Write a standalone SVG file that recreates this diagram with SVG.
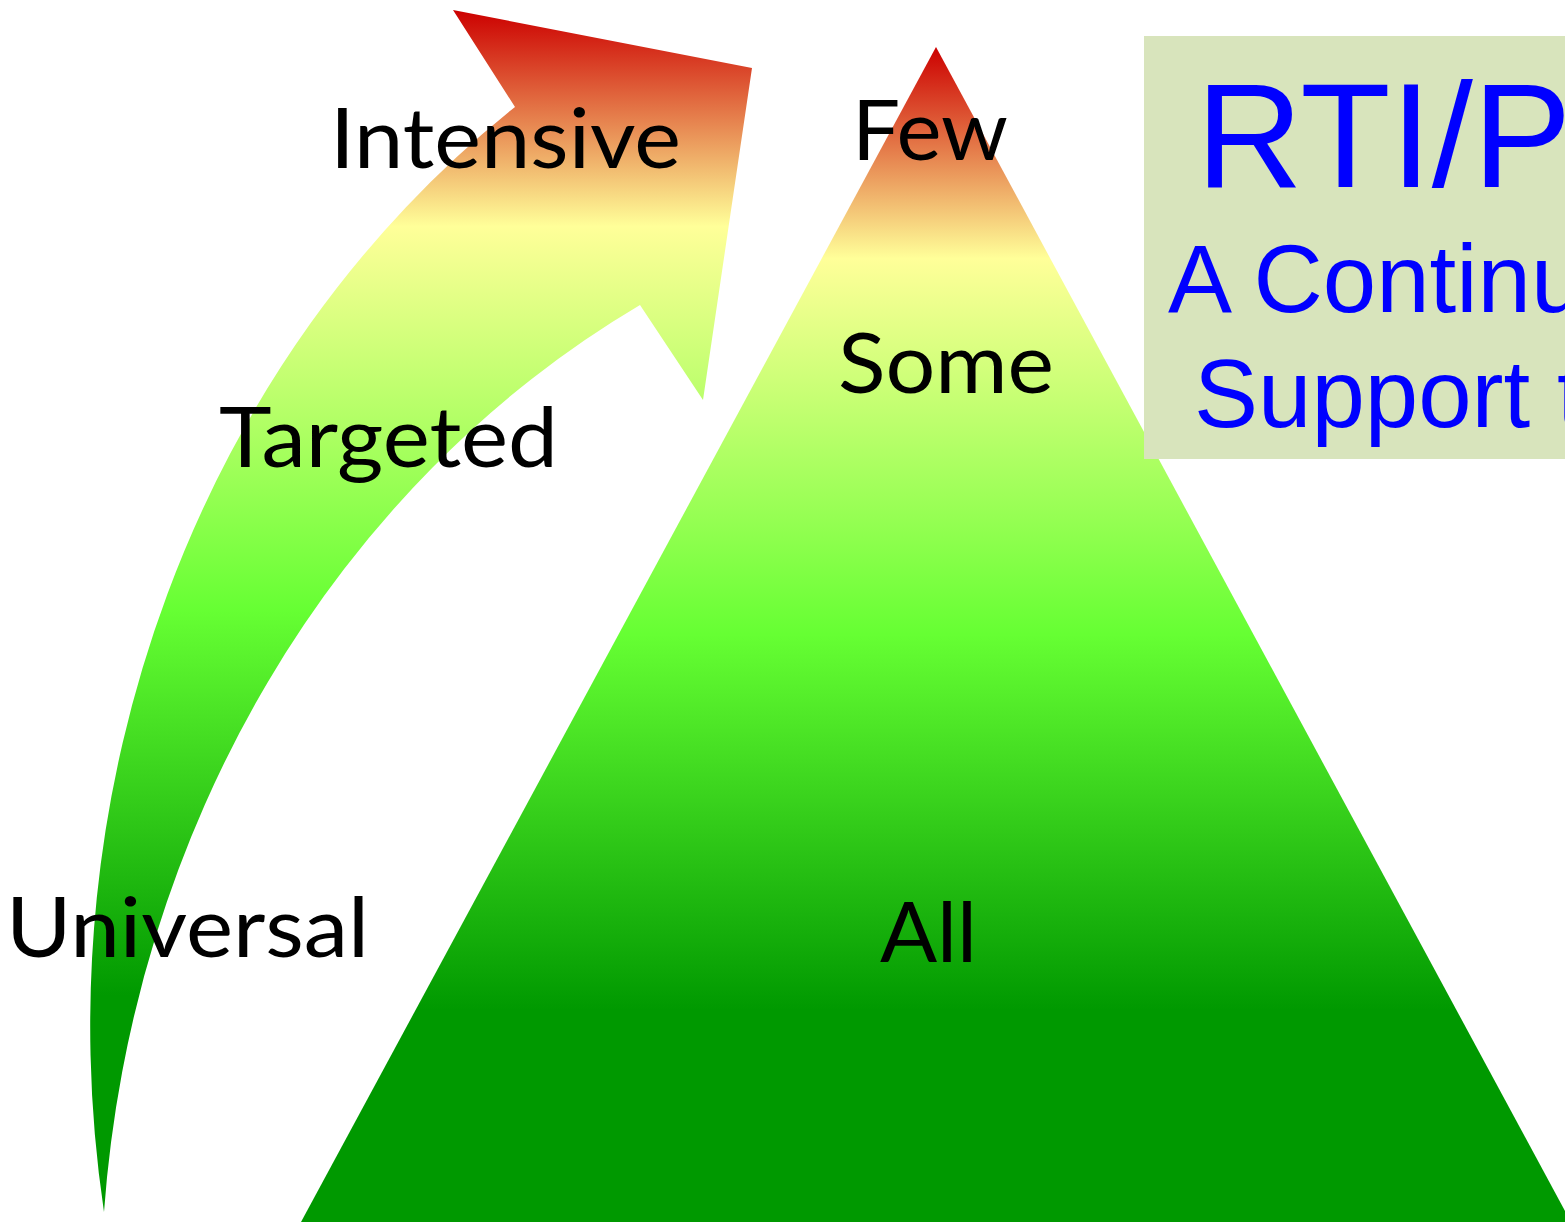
<svg xmlns="http://www.w3.org/2000/svg" width="1565" height="1224" viewBox="0 0 1565 1224">
  <defs>
    <linearGradient id="heat" x1="0" y1="0" x2="0" y2="1">
      <stop offset="0" stop-color="#CC0000"/>
      <stop offset="0.18" stop-color="#FFFF99"/>
      <stop offset="0.5" stop-color="#66FF33"/>
      <stop offset="0.82" stop-color="#009900"/>
      <stop offset="1" stop-color="#009900"/>
    </linearGradient>
    <style>
      .lbl { font-family: Lato, "Open Sans", "Noto Sans", sans-serif; font-size: 84px; fill: #000000; }
      .blue { font-family: "Liberation Sans", Arial, sans-serif; fill: #0000FF; }
    </style>
  </defs>
  <rect width="1565" height="1224" fill="#FFFFFF"/>

  <g id="curved-arrow">
    <path d="M104,1212 A1015,1130 0 0 1 515,107 L453,10 L752,68 L703,400 L640,305 A1015,1130 0 0 0 104,1212 Z" fill="url(#heat)"/>
  </g>

  <g id="pyramid">
    <polygon points="936,47 1571,1222 301,1222" fill="url(#heat)"/>
  </g>

  <g id="title-box">
    <rect x="1144" y="36" width="430" height="423" fill="#D8E4BC"/>
    <text class="blue" x="1196" y="187" font-size="148">RTI/P</text>
    <text class="blue" x="1168" y="312" font-size="96">A Continu</text>
    <text class="blue" x="1194" y="427" font-size="96">Support t</text>
  </g>

  <g id="label-intensive"><text class="lbl" x="330" y="168" textLength="351" lengthAdjust="spacingAndGlyphs">Intensive</text></g>
  <g id="label-targeted"><text class="lbl" x="219" y="467" textLength="339" lengthAdjust="spacingAndGlyphs">Targeted</text></g>
  <g id="label-universal"><text class="lbl" x="6" y="957" textLength="363" lengthAdjust="spacingAndGlyphs">Universal</text></g>
  <g id="label-few"><text class="lbl" x="852" y="160" textLength="156" lengthAdjust="spacingAndGlyphs">Few</text></g>
  <g id="label-some"><text class="lbl" x="838" y="393" textLength="216" lengthAdjust="spacingAndGlyphs">Some</text></g>
  <g id="label-all"><text class="lbl" x="880" y="962" textLength="97" lengthAdjust="spacingAndGlyphs">All</text></g>

  <g id="connectors"></g>
</svg>
